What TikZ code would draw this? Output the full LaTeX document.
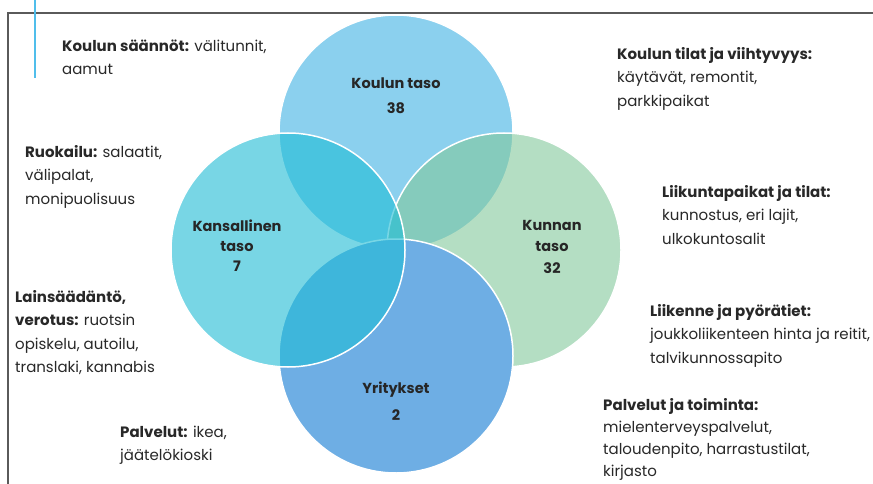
\documentclass[tikz,border=0pt]{standalone}
\usepackage{fontspec}
\setmainfont{Poppins}
\definecolor{cTop}{RGB}{63,177,227}
\definecolor{cLeft}{RGB}{30,188,213}
\definecolor{cRight}{RGB}{130,200,155}
\definecolor{cBot}{RGB}{110,174,228}
\definecolor{txt}{RGB}{40,40,40}
\definecolor{frameg}{RGB}{90,90,90}
\definecolor{accent}{RGB}{80,190,235}
\tikzset{
  venn/.style={circle, minimum size=234pt, inner sep=0pt, fill opacity=0.6, draw=white, draw opacity=1, line width=1.5pt},
  note/.style={anchor=north west, inner sep=0pt, align=left, text=txt, font=\fontsize{15}{23.2}\selectfont},
  clabel/.style={anchor=north, inner sep=0pt, align=center, text=black!85, font=\bfseries\fontsize{14.5}{#1}\selectfont},
}
\begin{document}
\begin{tikzpicture}[x=1pt,y=-1pt]
\useasboundingbox (0,0) rectangle (873,484);
\fill[white] (0,0) rectangle (873,484);
% frame
\coordinate (ftl) at (8,13);
\coordinate (ftr) at (873,13);
\coordinate (fbl) at (8,484);
\draw[frameg, line width=2pt] (ftr) -- (ftl) -- (fbl);
\coordinate (acc1) at (35,0);
\coordinate (acc2) at (35,78);
\draw[accent, line width=2pt] (acc1) -- (acc2);
% circles
\node[venn, fill=cTop] (top) at (396,132) {};
\node[venn, fill=cRight] (right) at (504,250) {};
\node[venn, fill=cBot, fill opacity=1] (bot) at (396,356) {};
\node[venn, fill=cLeft] (left) at (288,250) {};
% circle labels
\node[clabel=25] (ltop) at (396,77.5) {Koulun taso\\38};
\node[clabel=20] (lleft) at (237,220) {Kansallinen\\taso\\7};
\node[clabel=21.5] (lright) at (552,220) {Kunnan\\taso\\32};
\node[clabel=27] (lbot) at (396,381.5) {Yritykset\\2};
% notes
\node[note] (n1) at (62,39.5) {\textbf{Koulun säännöt:} välitunnit,\\aamut};
\node[note] (n2) at (617,47.5) {\textbf{Koulun tilat ja viihtyvyys:}\\käytävät, remontit,\\parkkipaikat};
\node[note] (n3) at (25,145.5) {\textbf{Ruokailu:} salaatit,\\välipalat,\\monipuolisuus};
\node[note] (n4) at (662,185.5) {\textbf{Liikuntapaikat ja tilat:}\\kunnostus, eri lajit,\\ulkokuntosalit};
\node[note] (n5) at (15,290.5) {\textbf{Lainsäädäntö,}\\\textbf{verotus:} ruotsin\\opiskelu, autoilu,\\translaki, kannabis};
\node[note] (n6) at (650,304.5) {\textbf{Liikenne ja pyörätiet:}\\joukkoliikenteen hinta ja reitit,\\talvikunnossapito};
\node[note] (n7) at (120,425.5) {\textbf{Palvelut:} ikea,\\jäätelökioski};
\node[note, font=\fontsize{15}{22}\selectfont] (n8) at (603,398) {\textbf{Palvelut ja toiminta:}\\mielenterveyspalvelut,\\taloudenpito, harrastustilat,\\kirjasto};
\end{tikzpicture}
\end{document}
